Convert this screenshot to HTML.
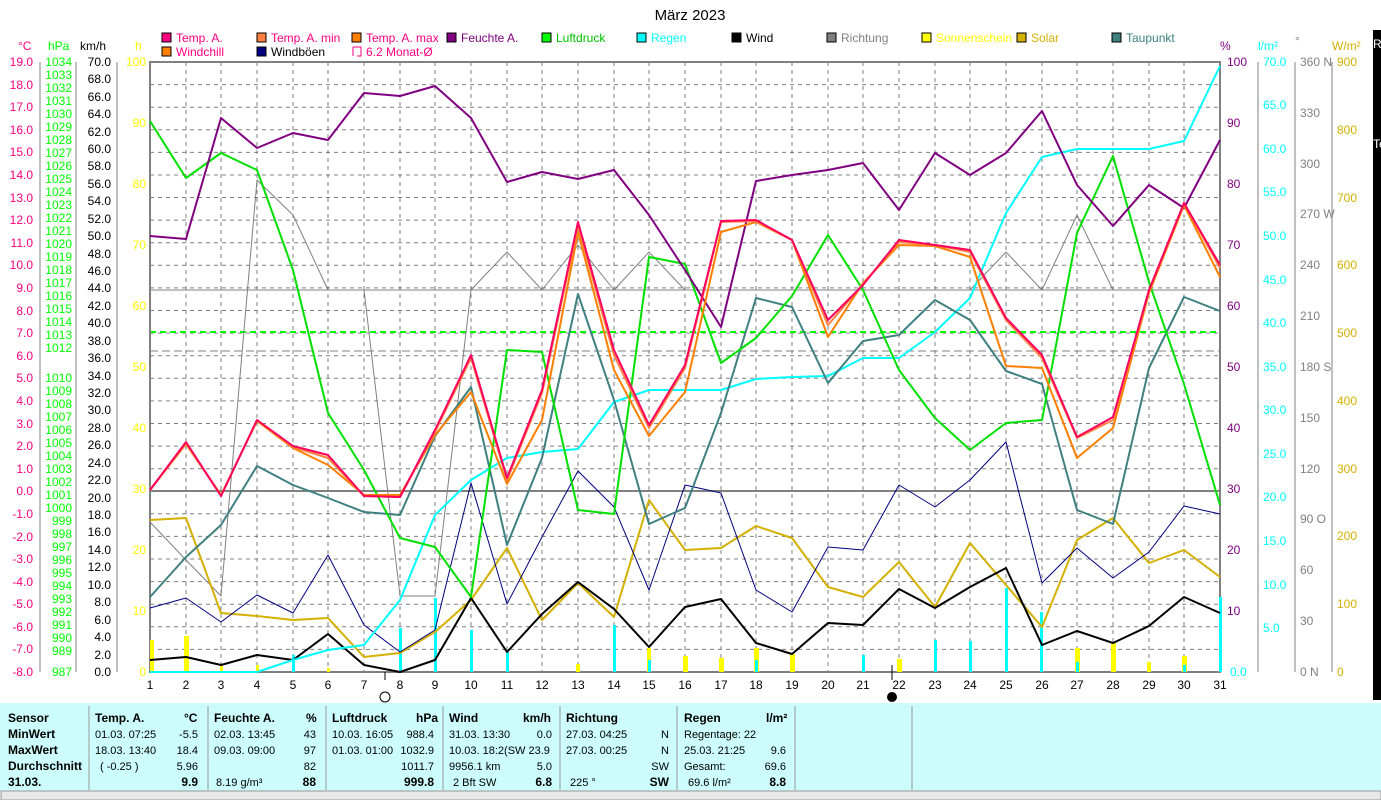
<!DOCTYPE html>
<html><head><meta charset="utf-8"><style>
body{margin:0;width:1381px;height:800px;background:#fff;overflow:hidden;font-family:"Liberation Sans",sans-serif;}
svg{position:absolute;left:0;top:0}
.t{position:absolute;font-size:12px}
</style></head><body>
<svg width="1381" height="800" viewBox="0 0 1381 800" font-family="Liberation Sans, sans-serif" font-size="12">
<text x="690" y="20" text-anchor="middle" font-size="15">März 2023</text>
<!-- legend -->
<g font-size="12">
<rect x="162" y="33" width="9" height="9" fill="#ff0080" stroke="#000"/><text x="176" y="42" fill="#ff0080">Temp. A.</text>
<rect x="257" y="33" width="9" height="9" fill="#ff8040" stroke="#000"/><text x="271" y="42" fill="#ff0080">Temp. A. min</text>
<rect x="352" y="33" width="9" height="9" fill="#ff8000" stroke="#000"/><text x="366" y="42" fill="#ff0080">Temp. A. max</text>
<rect x="447" y="33" width="9" height="9" fill="#800080" stroke="#000"/><text x="461" y="42" fill="#800080">Feuchte A.</text>
<rect x="542" y="33" width="9" height="9" fill="#00ff00" stroke="#000"/><text x="556" y="42" fill="#00c000">Luftdruck</text>
<rect x="637" y="33" width="9" height="9" fill="#00ffff" stroke="#000"/><text x="651" y="42" fill="#00ffff">Regen</text>
<rect x="732" y="33" width="9" height="9" fill="#000" stroke="#000"/><text x="746" y="42">Wind</text>
<rect x="827" y="33" width="9" height="9" fill="#808080" stroke="#000"/><text x="841" y="42" fill="#808080">Richtung</text>
<rect x="922" y="33" width="9" height="9" fill="#ffff00" stroke="#000"/><text x="936" y="42" fill="#ffff00">Sonnenschein</text>
<rect x="1017" y="33" width="9" height="9" fill="#d4b000" stroke="#000"/><text x="1031" y="42" fill="#d4b000">Solar</text>
<rect x="1112" y="33" width="9" height="9" fill="#408080" stroke="#000"/><text x="1126" y="42" fill="#408080">Taupunkt</text>
<rect x="162" y="47" width="9" height="9" fill="#ff8000" stroke="#000"/><text x="176" y="56" fill="#ff0080">Windchill</text>
<rect x="257" y="47" width="9" height="9" fill="#000080" stroke="#000"/><text x="271" y="56">Windböen</text>
<path d="M353 47h8v9h-4M353 47v9" stroke="#ff0080" fill="none"/><text x="366" y="56" fill="#ff0080">6.2 Monat-Ø</text>
</g>
<!-- axis titles -->
<text x="18" y="50" fill="#ff0080">°C</text>
<text x="48" y="50" fill="#00ff00">hPa</text>
<text x="80" y="50">km/h</text>
<text x="135" y="50" fill="#ffff00">h</text>
<text x="1220" y="50" fill="#800080">%</text>
<text x="1258" y="50" fill="#00ffff">l/m²</text>
<text x="1295" y="45" fill="#808080">°</text>
<text x="1332" y="50" fill="#d4b000">W/m²</text>
<!-- grid -->
<g stroke="#808080" stroke-dasharray="4,4" stroke-width="1">
<path d="M150 84.6H1220M150 107.2H1220M150 129.8H1220M150 152.4H1220M150 175H1220M150 197.5H1220M150 220.1H1220M150 242.7H1220M150 265.3H1220M150 287.9H1220M150 310.5H1220M150 333.1H1220M150 355.7H1220M150 378.3H1220M150 400.9H1220M150 423.5H1220M150 446.1H1220M150 468.7H1220M150 513.8H1220M150 536.4H1220M150 559H1220M150 581.6H1220M150 604.2H1220M150 626.8H1220M150 649.4H1220"/>
<path d="M186 62V672M221 62V672M257 62V672M293 62V672M328 62V672M364 62V672M400 62V672M435 62V672M471 62V672M507 62V672M542 62V672M578 62V672M614 62V672M649 62V672M685 62V672M721 62V672M756 62V672M792 62V672M828 62V672M863 62V672M899 62V672M935 62V672M970 62V672M1006 62V672M1042 62V672M1077 62V672M1113 62V672M1149 62V672M1184 62V672"/>
</g>
<path d="M150 491H1220" stroke="#808080" stroke-width="2"/>
<path d="M150 290H1220" stroke="#808080" stroke-width="1"/>
<path d="M150 332H1220" stroke="#00ff00" stroke-width="2" stroke-dasharray="6,4"/>
<path d="M150 351H1220" stroke="#808080" stroke-width="1" stroke-dasharray="8,4"/>
<rect x="150" y="62" width="1070" height="610" fill="none" stroke="#808080" stroke-width="2"/>
<!-- bars -->
<g fill="#ffff00">
<rect x="150" y="640" width="4" height="32"/><rect x="184" y="636" width="5" height="36"/><rect x="220" y="665" width="3" height="7"/><rect x="256" y="665" width="3" height="7"/><rect x="327" y="668" width="3" height="4"/>
<rect x="576" y="664" width="4" height="8"/><rect x="647" y="648" width="4" height="24"/><rect x="683" y="656" width="5" height="16"/><rect x="719" y="658" width="5" height="14"/><rect x="754" y="648" width="5" height="24"/><rect x="790" y="654" width="5" height="18"/><rect x="897" y="659" width="5" height="13"/><rect x="1075" y="648" width="5" height="24"/><rect x="1111" y="643" width="5" height="29"/><rect x="1147" y="662" width="4" height="10"/><rect x="1182" y="656" width="5" height="16"/>
</g>
<g fill="#00ffff">
<rect x="292" y="655" width="3" height="17"/><rect x="399" y="628" width="3" height="44"/><rect x="434" y="598" width="3" height="74"/><rect x="470" y="630" width="3" height="42"/><rect x="506" y="652" width="3" height="20"/><rect x="613" y="625" width="3" height="47"/><rect x="648" y="660" width="3" height="12"/><rect x="755" y="660" width="3" height="12"/><rect x="862" y="655" width="3" height="17"/><rect x="934" y="640" width="3" height="32"/><rect x="969" y="641" width="3" height="31"/><rect x="1005" y="588" width="3" height="84"/><rect x="1040" y="612" width="3" height="60"/><rect x="1076" y="662" width="3" height="10"/><rect x="1183" y="665" width="3" height="7"/><rect x="1219" y="597" width="3" height="75"/>
</g>
<g fill="none" stroke-linejoin="round">
<!-- direction -->
<polyline stroke="#808080" stroke-width="1" points="150,522 186,560 221,596 257,180 293,215 328,290 364,290 400,596 435,596 471,290 507,252 542,290 578,245 614,290 649,252 685,290 721,290 756,290 792,290 828,290 863,290 899,290 935,290 970,290 1006,252 1042,290 1077,215 1113,290 1149,290 1184,290 1220,290"/>
<!-- solar -->
<polyline stroke="#d4b000" stroke-width="2" points="150,520 186,518 221,613 257,616 293,620 328,618 364,657 400,653 435,632 471,600 507,548 542,620 578,583 614,617 649,500 685,550 721,548 756,526 792,538 828,587 863,597 899,562 935,607 970,543 1006,585 1042,627 1077,540 1113,518 1149,563 1184,550 1220,577"/>
<!-- gusts -->
<polyline stroke="#000080" stroke-width="1" points="150,608 186,598 221,622 257,595 293,613 328,555 364,625 400,652 435,630 471,483 507,604 542,537 578,471 614,507 649,590 685,485 721,493 756,590 792,612 828,547 863,550 899,485 935,507 970,480 1006,442 1042,583 1077,548 1113,578 1149,552 1184,506 1220,514"/>
<!-- wind -->
<polyline stroke="#000" stroke-width="2" points="150,660 186,657 221,665 257,655 293,660 328,634 364,665 400,672 435,660 471,598 507,652 542,614 578,582 614,609 649,647 685,607 721,599 756,643 792,654 828,623 863,625 899,589 935,608 970,587 1006,568 1042,645 1077,631 1113,643 1149,626 1184,597 1220,613"/>
<!-- rain -->
<polyline stroke="#00ffff" stroke-width="2" points="150,672 186,672 221,672 257,672 293,660 328,650 364,645 400,600 435,515 471,480 507,458 542,452 578,449 614,402 649,390 685,390 721,390 756,379 792,377 828,376 863,358 899,358 935,332 970,298 1006,213 1042,157 1077,149 1113,149 1149,149 1184,141 1220,66"/>
<!-- dewpoint -->
<polyline stroke="#408080" stroke-width="2" points="150,597 186,557 221,525 257,466 293,485 328,498 364,512 400,515 435,436 471,387 507,545 542,458 578,294 614,400 649,524 685,508 721,413 756,298 792,307 828,383 863,341 899,335 935,300 970,320 1006,371 1042,384 1077,510 1113,524 1149,368 1184,297 1220,311"/>
<!-- pressure -->
<polyline stroke="#00e000" stroke-width="2" points="150,121 186,178 221,153 257,170 293,270 328,413 364,470 400,538 435,547 471,597 507,350 542,352 578,510 614,514 649,257 685,264 721,363 756,338 792,296 828,235 863,290 899,370 935,418 970,450 1006,423 1042,420 1077,233 1113,156 1149,282 1184,384 1220,505"/>
<!-- humidity -->
<polyline stroke="#800080" stroke-width="2" points="150,236 186,239 221,118 257,148 293,133 328,140 364,93 400,96 435,86 471,118 507,182 542,172 578,179 614,170 649,215 685,270 721,327 756,181 792,175 828,170 863,163 899,210 935,153 970,175 1006,153 1042,111 1077,185 1113,226 1149,185 1184,208 1220,140"/>
<!-- min/windchill -->
<polyline stroke="#ff8000" stroke-width="2" points="150,490 186,444 221,495 257,421 293,448 328,465 364,495 400,495 435,435 471,392 507,484 542,420 578,232 614,370 649,436 685,392 721,232 756,222 792,240 828,337 863,283 899,245 935,246 970,257 1006,366 1042,368 1077,458 1113,428 1149,293 1184,205 1220,277"/>
<polyline stroke="#ff8040" stroke-width="2" points="150,490 186,443 221,496 257,420 293,447 328,458 364,496 400,497 435,432 471,358 507,480 542,393 578,226 614,355 649,428 685,368 721,222 756,221 792,240 828,325 863,284 899,242 935,245 970,252 1006,320 1042,358 1077,438 1113,420 1149,291 1184,203 1220,268"/>
<polyline stroke="#ff0060" stroke-width="2" points="150,490 186,442 221,496 257,420 293,446 328,455 364,496 400,497 435,430 471,355 507,478 542,390 578,222 614,350 649,425 685,365 721,221 756,220 792,240 828,320 863,285 899,240 935,245 970,250 1006,318 1042,355 1077,437 1113,417 1149,290 1184,203 1220,265"/>
</g>
<!-- left axes -->
<g stroke="#808080" stroke-width="1"><path d="M40 62V672M76 62V672M117 62V672M1258 62V672M1295 62V672M1332 62V672"/></g>
<g fill="#ff0080" text-anchor="end" font-size="12">
<text x="33" y="66">19.0</text><text x="33" y="89">18.0</text><text x="33" y="111">17.0</text><text x="33" y="134">16.0</text><text x="33" y="156">15.0</text><text x="33" y="179">14.0</text><text x="33" y="202">13.0</text><text x="33" y="224">12.0</text><text x="33" y="247">11.0</text><text x="33" y="269">10.0</text><text x="33" y="292">9.0</text><text x="33" y="315">8.0</text><text x="33" y="337">7.0</text><text x="33" y="360">6.0</text><text x="33" y="382">5.0</text><text x="33" y="405">4.0</text><text x="33" y="428">3.0</text><text x="33" y="450">2.0</text><text x="33" y="473">1.0</text><text x="33" y="495">0.0</text><text x="33" y="518">-1.0</text><text x="33" y="541">-2.0</text><text x="33" y="563">-3.0</text><text x="33" y="586">-4.0</text><text x="33" y="608">-5.0</text><text x="33" y="631">-6.0</text><text x="33" y="653">-7.0</text><text x="33" y="676">-8.0</text>
</g>
<g fill="#00ff00" text-anchor="end" font-size="12">
<text x="72" y="66">1034</text><text x="72" y="79">1033</text><text x="72" y="92">1032</text><text x="72" y="105">1031</text><text x="72" y="118">1030</text><text x="72" y="131">1029</text><text x="72" y="144">1028</text><text x="72" y="157">1027</text><text x="72" y="170">1026</text><text x="72" y="183">1025</text><text x="72" y="196">1024</text><text x="72" y="209">1023</text><text x="72" y="222">1022</text><text x="72" y="235">1021</text><text x="72" y="248">1020</text><text x="72" y="261">1019</text><text x="72" y="274">1018</text><text x="72" y="287">1017</text><text x="72" y="300">1016</text><text x="72" y="313">1015</text><text x="72" y="326">1014</text><text x="72" y="339">1013</text><text x="72" y="352">1012</text><text x="72" y="382">1010</text><text x="72" y="395">1009</text><text x="72" y="408">1008</text><text x="72" y="421">1007</text><text x="72" y="434">1006</text><text x="72" y="447">1005</text><text x="72" y="460">1004</text><text x="72" y="473">1003</text><text x="72" y="486">1002</text><text x="72" y="499">1001</text><text x="72" y="512">1000</text><text x="72" y="525">999</text><text x="72" y="538">998</text><text x="72" y="551">997</text><text x="72" y="564">996</text><text x="72" y="577">995</text><text x="72" y="590">994</text><text x="72" y="603">993</text><text x="72" y="616">992</text><text x="72" y="629">991</text><text x="72" y="642">990</text><text x="72" y="655">989</text><text x="72" y="676">987</text>
</g>
<g text-anchor="end" font-size="12">
<text x="111" y="66">70.0</text><text x="111" y="83">68.0</text><text x="111" y="101">66.0</text><text x="111" y="118">64.0</text><text x="111" y="136">62.0</text><text x="111" y="153">60.0</text><text x="111" y="170">58.0</text><text x="111" y="188">56.0</text><text x="111" y="205">54.0</text><text x="111" y="223">52.0</text><text x="111" y="240">50.0</text><text x="111" y="258">48.0</text><text x="111" y="275">46.0</text><text x="111" y="292">44.0</text><text x="111" y="310">42.0</text><text x="111" y="327">40.0</text><text x="111" y="345">38.0</text><text x="111" y="362">36.0</text><text x="111" y="380">34.0</text><text x="111" y="397">32.0</text><text x="111" y="414">30.0</text><text x="111" y="432">28.0</text><text x="111" y="449">26.0</text><text x="111" y="467">24.0</text><text x="111" y="484">22.0</text><text x="111" y="502">20.0</text><text x="111" y="519">18.0</text><text x="111" y="536">16.0</text><text x="111" y="554">14.0</text><text x="111" y="571">12.0</text><text x="111" y="589">10.0</text><text x="111" y="606">8.0</text><text x="111" y="624">6.0</text><text x="111" y="641">4.0</text><text x="111" y="659">2.0</text><text x="111" y="676">0.0</text>
</g>
<g fill="#ffff00" text-anchor="end" font-size="12">
<text x="146" y="66">100</text><text x="146" y="127">90</text><text x="146" y="188">80</text><text x="146" y="249">70</text><text x="146" y="310">60</text><text x="146" y="371">50</text><text x="146" y="432">40</text><text x="146" y="493">30</text><text x="146" y="554">20</text><text x="146" y="615">10</text><text x="146" y="676">0</text>
</g>
<!-- right axes -->
<g fill="#800080" font-size="12">
<text x="1227" y="66">100</text><text x="1227" y="127">90</text><text x="1227" y="188">80</text><text x="1227" y="249">70</text><text x="1227" y="310">60</text><text x="1227" y="371">50</text><text x="1227" y="432">40</text><text x="1227" y="493">30</text><text x="1227" y="554">20</text><text x="1227" y="615">10</text>
</g>
<g fill="#00ffff" font-size="12">
<text x="1263" y="66">70.0</text><text x="1263" y="109">65.0</text><text x="1263" y="153">60.0</text><text x="1263" y="196">55.0</text><text x="1263" y="240">50.0</text><text x="1263" y="284">45.0</text><text x="1263" y="327">40.0</text><text x="1263" y="371">35.0</text><text x="1263" y="414">30.0</text><text x="1263" y="458">25.0</text><text x="1263" y="501">20.0</text><text x="1263" y="545">15.0</text><text x="1263" y="589">10.0</text><text x="1263" y="632">5.0</text><text x="1230" y="676">0.0</text>
</g>
<g fill="#808080" font-size="12">
<text x="1300" y="66">360 N</text><text x="1300" y="117">330</text><text x="1300" y="168">300</text><text x="1300" y="218">270 W</text><text x="1300" y="269">240</text><text x="1300" y="320">210</text><text x="1300" y="371">180 S</text><text x="1300" y="422">150</text><text x="1300" y="473">120</text><text x="1300" y="523">90 O</text><text x="1300" y="574">60</text><text x="1300" y="625">30</text><text x="1300" y="676">0 N</text>
</g>
<g fill="#d4b000" font-size="12">
<text x="1337" y="66">900</text><text x="1337" y="134">800</text><text x="1337" y="202">700</text><text x="1337" y="269">600</text><text x="1337" y="337">500</text><text x="1337" y="405">400</text><text x="1337" y="473">300</text><text x="1337" y="540">200</text><text x="1337" y="608">100</text><text x="1337" y="676">0</text>
</g>
<rect x="1373" y="30" width="8" height="670" fill="#000"/>
<text x="1373" y="48" fill="#fff">R</text><text x="1373" y="148" fill="#fff">Te</text>
<!-- x labels -->
<g text-anchor="middle" font-size="12">
<text x="150" y="689">1</text><text x="186" y="689">2</text><text x="221" y="689">3</text><text x="257" y="689">4</text><text x="293" y="689">5</text><text x="328" y="689">6</text><text x="364" y="689">7</text><text x="400" y="689">8</text><text x="435" y="689">9</text><text x="471" y="689">10</text><text x="507" y="689">11</text><text x="542" y="689">12</text><text x="578" y="689">13</text><text x="614" y="689">14</text><text x="649" y="689">15</text><text x="685" y="689">16</text><text x="721" y="689">17</text><text x="756" y="689">18</text><text x="792" y="689">19</text><text x="828" y="689">20</text><text x="863" y="689">21</text><text x="899" y="689">22</text><text x="935" y="689">23</text><text x="970" y="689">24</text><text x="1006" y="689">25</text><text x="1042" y="689">26</text><text x="1077" y="689">27</text><text x="1113" y="689">28</text><text x="1149" y="689">29</text><text x="1184" y="689">30</text><text x="1220" y="689">31</text>
</g>
<path d="M385 672v8M892 665v15" stroke="#000"/>
<circle cx="385" cy="697" r="5" fill="none" stroke="#000"/>
<circle cx="892" cy="697" r="5" fill="#000"/>
<!-- table -->
<rect x="0" y="703" width="1381" height="88" fill="#ccfcfc"/>
<g stroke="#999"><path d="M89 706V790M208 706V790M326 706V790M443 706V790M560 706V790M677 706V790M795 706V790M912 706V790"/></g>
<rect x="1" y="791" width="1380" height="9" fill="#e8e8e8" stroke="#999"/>
<g font-size="12" font-weight="bold">
<text x="8" y="722">Sensor</text><text x="8" y="754">MaxWert</text><text x="8" y="738">MinWert</text><text x="8" y="770">Durchschnitt</text><text x="8" y="786">31.03.</text>
<text x="95" y="722">Temp. A.</text><text x="184" y="722">°C</text>
<text x="214" y="722">Feuchte A.</text><text x="306" y="722">%</text>
<text x="332" y="722">Luftdruck</text><text x="416" y="722">hPa</text>
<text x="449" y="722">Wind</text><text x="523" y="722">km/h</text>
<text x="566" y="722">Richtung</text>
<text x="684" y="722">Regen</text><text x="766" y="722">l/m²</text>
<text x="198" y="786" text-anchor="end">9.9</text><text x="316" y="786" text-anchor="end">88</text><text x="434" y="786" text-anchor="end">999.8</text><text x="552" y="786" text-anchor="end">6.8</text><text x="669" y="786" text-anchor="end">SW</text><text x="786" y="786" text-anchor="end">8.8</text>
</g>
<g font-size="11">
<text x="95" y="738">01.03.  07:25</text><text x="198" y="738" text-anchor="end">-5.5</text>
<text x="95" y="754">18.03.  13:40</text><text x="198" y="754" text-anchor="end">18.4</text>
<text x="100" y="770">( -0.25 )</text><text x="198" y="770" text-anchor="end">5.96</text>
<text x="214" y="738">02.03.  13:45</text><text x="316" y="738" text-anchor="end">43</text>
<text x="214" y="754">09.03.  09:00</text><text x="316" y="754" text-anchor="end">97</text>
<text x="316" y="770" text-anchor="end">82</text><text x="216" y="786">8.19 g/m³</text>
<text x="332" y="738">10.03.  16:05</text><text x="434" y="738" text-anchor="end">988.4</text>
<text x="332" y="754">01.03.  01:00</text><text x="434" y="754" text-anchor="end">1032.9</text>
<text x="434" y="770" text-anchor="end">1011.7</text>
<text x="449" y="738">31.03.  13:30</text><text x="552" y="738" text-anchor="end">0.0</text>
<text x="449" y="754">10.03.  18:2(SW 23.9</text>
<text x="449" y="770">9956.1 km</text><text x="552" y="770" text-anchor="end">5.0</text>
<text x="453" y="786">2 Bft SW</text>
<text x="566" y="738">27.03.  04:25</text><text x="669" y="738" text-anchor="end">N</text>
<text x="566" y="754">27.03.  00:25</text><text x="669" y="754" text-anchor="end">N</text>
<text x="669" y="770" text-anchor="end">SW</text><text x="570" y="786">225 °</text>
<text x="684" y="738">Regentage: 22</text>
<text x="684" y="754">25.03.  21:25</text><text x="786" y="754" text-anchor="end">9.6</text>
<text x="684" y="770">Gesamt:</text><text x="786" y="770" text-anchor="end">69.6</text>
<text x="688" y="786">69.6 l/m²</text>
</g>
</svg>
</body></html>
